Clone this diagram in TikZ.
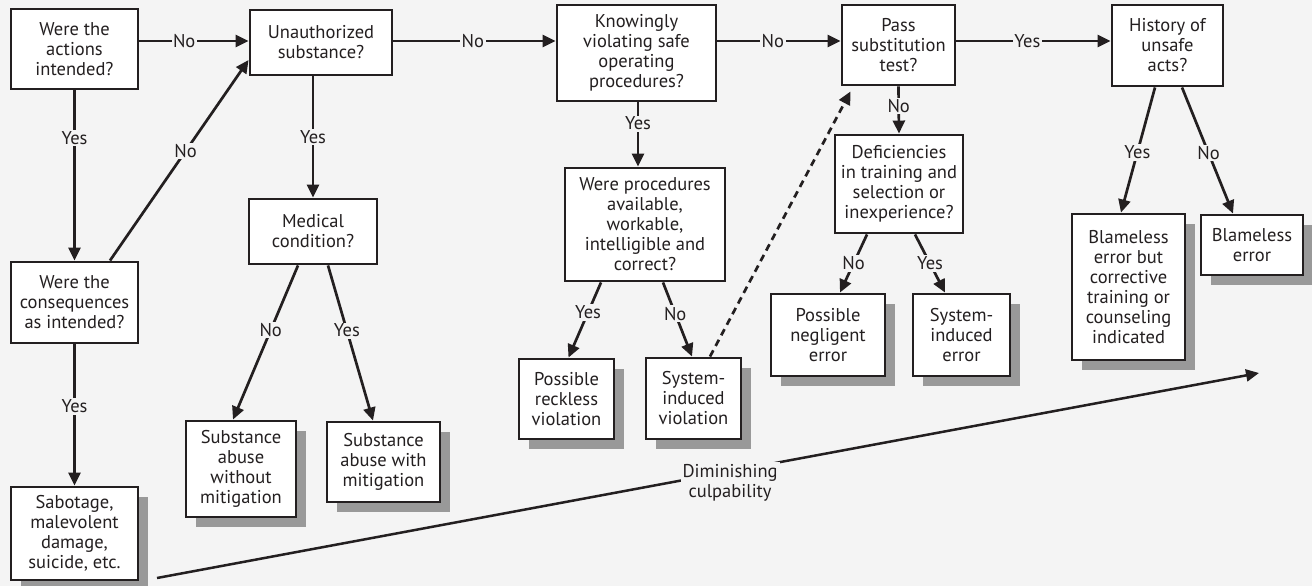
\documentclass[tikz,border=0pt]{standalone}
\usepackage{fontspec}
\setmainfont{PT Sans}
\usetikzlibrary{arrows.meta,shadows}
\definecolor{bgc}{HTML}{F4F4F4}
\definecolor{ink}{HTML}{231F20}
\definecolor{shd}{HTML}{999999}
\begin{document}
\begin{tikzpicture}[x=1pt,y=-1pt,
  font=\fontsize{18.5}{20}\selectfont,
  qbox/.style={draw=ink,line width=2.9pt,fill=white,text=ink,align=center,inner sep=0pt},
  obox/.style={qbox,drop shadow={shadow xshift=10pt,shadow yshift=-10pt,fill=shd,opacity=1}},
  arr/.style={draw=ink,line width=2.7pt,-{Triangle[length=13pt,width=12pt]}},
  lab/.style={fill=bgc,text=ink,inner sep=1.5pt,font=\fontsize{18.5}{20}\selectfont}]
\fill[bgc] (0,0) rectangle (1312,586);
\useasboundingbox (0,0) rectangle (1312,586);
% question boxes
\node[qbox,minimum width=127pt,minimum height=80pt] (n1) at (74.5,49) {Were the\\actions\\intended?};
\node[qbox,minimum width=142pt,minimum height=65pt] (n2) at (321,42.5) {Unauthorized\\substance?};
\node[qbox,minimum width=159pt,minimum height=96pt] (n3) at (636.5,53) {Knowingly\\violating safe\\operating\\procedures?};
\node[qbox,minimum width=113pt,minimum height=80pt] (n4) at (898.5,45) {Pass\\substitution\\test?};
\node[qbox,minimum width=111pt,minimum height=81pt] (n5) at (1167.5,45.5) {History of\\unsafe\\acts?};
\node[qbox,minimum width=127pt,minimum height=81pt] (n6) at (74.5,302.5) {Were the\\consequences\\as intended?};
\node[qbox,minimum width=128pt,minimum height=65pt] (n8) at (313,231.5) {Medical\\condition?};
\node[qbox,minimum width=160pt,minimum height=113pt] (n11) at (645,224.5) {Were procedures\\available,\\workable,\\intelligible and\\correct?};
\node[qbox,minimum width=128pt,minimum height=98pt] (n14) at (899,184) {Deficiencies\\in training and\\selection or\\inexperience?};
% outcome boxes
\node[obox,minimum width=127pt,minimum height=93pt] (n7) at (74.5,533.5) {Sabotage,\\malevolent\\damage,\\suicide, etc.};
\node[obox,minimum width=110pt,minimum height=96pt] (n9) at (241,469) {Substance\\abuse\\without\\mitigation};
\node[obox,minimum width=113pt,minimum height=80pt] (n10) at (383.5,462) {Substance\\abuse with\\mitigation};
\node[obox,minimum width=95pt,minimum height=80pt] (n12) at (566.5,399) {Possible\\reckless\\violation};
\node[obox,minimum width=95pt,minimum height=81pt] (n13) at (693.5,398.5) {System-\\induced\\violation};
\node[obox,minimum width=114pt,minimum height=82pt] (n15) at (828,335) {Possible\\negligent\\error};
\node[obox,minimum width=97pt,minimum height=82pt] (n16) at (961.5,335) {System-\\induced\\error};
\node[obox,minimum width=113pt,minimum height=146pt] (n17) at (1128.5,287) {Blameless\\error but\\corrective\\training or\\counseling\\indicated};
\node[obox,minimum width=102pt,minimum height=60pt] (n18) at (1252,245) {Blameless\\error};
\coordinate (rowy) at (0,41);
\coordinate (dcS) at (157,578);
\coordinate (dcE) at (1259,373);
% connectors
\draw[arr] (n1.east |- rowy) -- node[lab,pos=0.41]{No} (n2.west |- rowy);
\draw[arr] (n2.east |- rowy) -- node[lab,pos=0.49]{No} (n3.west |- rowy);
\draw[arr] (n3.east |- rowy) -- node[lab,pos=0.45]{No} (n4.west |- rowy);
\draw[arr] (n4.east |- rowy) -- node[lab,pos=0.46]{Yes} (n5.west |- rowy);
\draw[arr] (n1.south) -- node[lab,pos=0.28]{Yes} (n6.north);
\draw[arr] (n6.south) -- node[lab,pos=0.44]{Yes} (n7.north);
\draw[arr] ([xshift=35.5pt]n6.north) -- node[lab,pos=0.545]{No} ([yshift=-17.5pt]n2.west);
\draw[arr] (n8.north |- n2.south) -- node[lab,pos=0.5]{Yes} (n8.north);
\draw[arr] ([xshift=-15pt]n8.south) -- node[lab,pos=0.42]{No} ([xshift=-8pt]n9.north);
\draw[arr] ([xshift=15pt]n8.south) -- node[lab,pos=0.42]{Yes} ([xshift=-10.5pt]n10.north);
\draw[arr] ([xshift=1.5pt]n3.south) -- node[lab,pos=0.33]{Yes} ([xshift=1.5pt]n3.south |- n11.north);
\draw[arr] ([xshift=-44pt]n11.south) -- node[lab,pos=0.4]{Yes} ([xshift=2pt]n12.north);
\draw[arr] ([xshift=18pt]n11.south) -- node[lab,pos=0.42]{No} ([xshift=-1.5pt]n13.north);
\draw[arr,dash pattern=on 7pt off 5pt] ([xshift=16.5pt]n13.north) -- ([xshift=10pt,yshift=-5pt]n4.south west);
\draw[arr] (n4.south) -- node[lab,pos=0.42]{No} (n14.north);
\draw[arr] ([xshift=-32pt]n14.south) -- node[lab,pos=0.5]{No} ([xshift=12pt]n15.north);
\draw[arr] ([xshift=16pt]n14.south) -- node[lab,pos=0.5]{Yes} ([xshift=-16.5pt]n16.north);
\draw[arr] ([xshift=-12.5pt]n5.south) -- node[lab,pos=0.52]{Yes} ([xshift=-7.5pt]n17.north);
\draw[arr] ([xshift=14.5pt]n5.south) -- node[lab,pos=0.52]{No} ([xshift=-19pt]n18.north);
\draw[arr,line width=2.5pt] (dcS) -- node[lab,pos=0.52,yshift=-11pt,align=center,inner sep=2pt]{Diminishing\\culpability} (dcE);
\end{tikzpicture}
\end{document}
